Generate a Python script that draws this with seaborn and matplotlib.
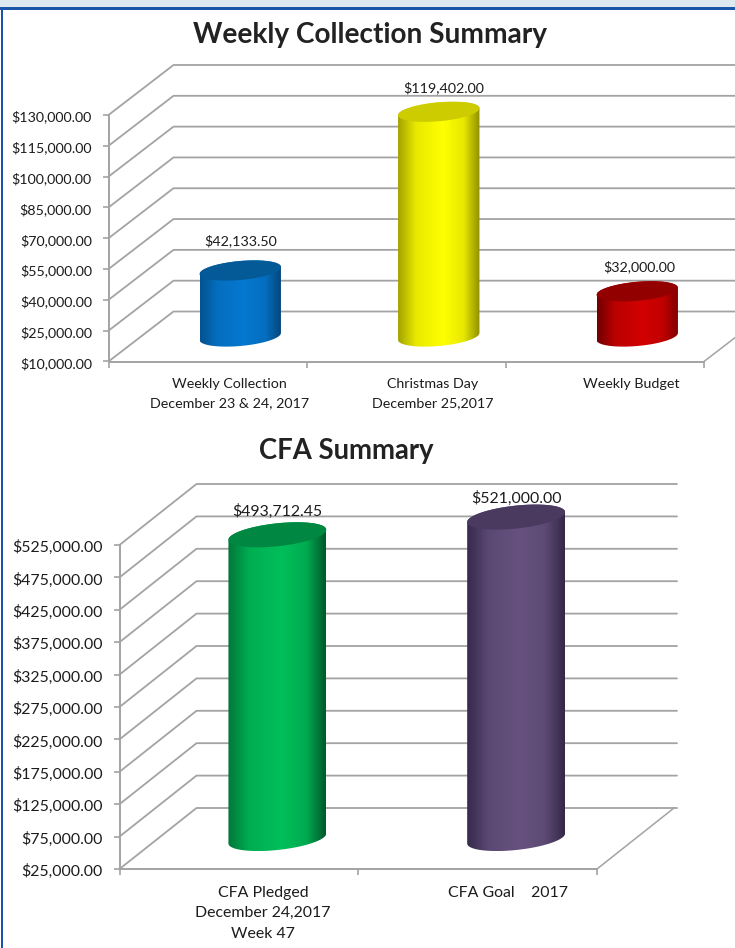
import numpy as np
import seaborn as sns
import matplotlib.pyplot as plt
from matplotlib.colors import LinearSegmentedColormap
from matplotlib.patches import Polygon, Rectangle
from matplotlib.ticker import FuncFormatter
from matplotlib.transforms import Affine2D, IdentityTransform

# Data
weekly_title = "Weekly Collection Summary"
weekly_cats = ["Weekly Collection\nDecember 23 & 24, 2017", "Christmas Day\nDecember 25,2017", "Weekly Budget"]
weekly_vals = [42133.50, 119402.00, 32000.00]
weekly_ticks = [10000, 25000, 40000, 55000, 70000, 85000, 100000, 115000, 130000]

cfa_title = "CFA Summary"
cfa_cats = ["CFA Pledged\nDecember 24,2017\nWeek 47", "CFA Goal    2017"]
cfa_vals = [493712.45, 521000.00]
cfa_ticks = [25000, 75000, 125000, 175000, 225000, 275000, 325000, 375000, 425000, 475000, 525000]

# left edge, peak, right edge, cap
weekly_colors = [("#04528f", "#0578d0", "#034478", "#035a96"),
                 ("#a3a300", "#ffff00", "#8f8f00", "#cccc00"),
                 ("#700000", "#d20000", "#7d0000", "#930000")]
cfa_colors = [("#00773a", "#00bf5a", "#00582b", "#008741"),
              ("#362a4c", "#67527f", "#342849", "#4a3a60")]

W, H = 735, 948
GRID = "#a3a3a3"
TEXT = "#1c1c1c"

sns.set_style("ticks")
plt.rcParams["font.family"] = ["Lato", "DejaVu Sans"]

fig = plt.figure(figsize=(W / 100, H / 100), dpi=100)

# page frame
fig.add_artist(Rectangle((0, 1 - 8 / H), 1, 8 / H, transform=fig.transFigure, color="#dce9f0", lw=0))
fig.add_artist(Rectangle((0, 1 - 10 / H), 1, 2.5 / H, transform=fig.transFigure, color="#1a55a8", lw=0))
fig.add_artist(Rectangle((1 / W, 0), 2.5 / W, 1 - 8 / H, transform=fig.transFigure, color="#1a55a8", lw=0))


def cylinder_path(left, right, base, top, tilt, b):
    # outline in pixels: lower half of base ellipse, upper half of the cap
    cx, a = (left + right) / 2, (right - left) / 2
    t = np.linspace(np.pi, 2 * np.pi, 40)
    low = np.c_[cx + a * np.cos(t), base + b * np.sin(t) + tilt * np.cos(t)]
    t2 = np.linspace(0, np.pi, 40)
    up = np.c_[cx + a * np.cos(t2), top + b * np.sin(t2) + tilt * np.cos(t2)]
    return np.vstack([low, up])


def cap_path(left, right, top, tilt, b):
    cx, a = (left + right) / 2, (right - left) / 2
    t = np.linspace(0, 2 * np.pi, 80)
    return np.c_[cx + a * np.cos(t), top + b * np.sin(t) + tilt * np.cos(t)]


def draw_chart(box, cats, vals, ticks, colors, title, title_xy, title_size, depth, grid_end, tilt, b,
               label_nudge, cat_shift, fs, spacing):
    x0, x1, y_top, y_bot = box
    dx, dy = depth
    ax = fig.add_axes([x0 / W, 1 - y_bot / H, (x1 - x0) / W, (y_bot - y_top) / H])
    sns.barplot(x=cats, y=vals, hue=cats, palette=[c[1] for c in colors], width=0.41,
                legend=False, saturation=1, ax=ax, zorder=3)
    ax.set_ylim(ticks[0], ticks[-1])
    ax.set_xlim(-0.5, len(cats) - 0.5)
    ax.set_yticks(ticks)
    ax.yaxis.set_major_formatter(FuncFormatter(lambda v, _: f"${v:,.2f}"))
    ax.set_xticks(np.arange(-0.5, len(cats)), minor=True)
    ax.tick_params(axis="x", which="major", length=0, pad=12, labelsize=fs, labelcolor=TEXT)
    ax.tick_params(axis="x", which="minor", length=4, width=1.2, color=GRID)
    ax.tick_params(axis="y", length=4, width=1.2, color=GRID, pad=8, labelsize=fs, labelcolor=TEXT)
    for name in ["top", "right"]:
        ax.spines[name].set_visible(False)
    for name in ["left", "bottom"]:
        ax.spines[name].set_color(GRID)
        ax.spines[name].set_linewidth(1.4)
    for lab, shift in zip(ax.get_xticklabels(), cat_shift):
        lab.set_transform(lab.get_transform() + Affine2D().translate(shift, 0))
        lab.set_linespacing(spacing)
    for lab in ax.get_yticklabels():
        lab.set_transform(lab.get_transform() + Affine2D().translate(0, -1))

    fig.canvas.draw()
    px = ax.transData.transform

    # side wall and back wall gridlines
    for t in ticks:
        sx, sy = px((-0.5, t))
        ax.plot([sx, sx + dx, grid_end], [sy, sy + dy, sy + dy], color=GRID, lw=1.3,
                transform=IdentityTransform(), clip_on=False, zorder=1)
    # right edge of floor
    rx, ry = px((len(cats) - 0.5, ticks[0]))
    ax.plot([rx, rx + dx], [ry, ry + dy], color=GRID, lw=1.1,
            transform=IdentityTransform(), clip_on=False, zorder=1)

    # cylinders stand half way into the floor
    for i, (bar, v, col) in enumerate(zip(ax.patches, vals, colors)):
        bar.set_visible(False)
        left, base = px((bar.get_x(), ticks[0])) + [dx / 2, dy / 2]
        right, top = px((bar.get_x() + bar.get_width(), v)) + [dx / 2, dy / 2]
        outline = cylinder_path(left, right, base, top, tilt, b)
        cmap = LinearSegmentedColormap.from_list("body", [col[0], col[1], col[2]])
        # shading stays bright over the middle, falls off only near the edges
        grad = np.interp(np.linspace(0, 1, 256), [0, 0.22, 0.55, 0.8, 1], [0, 0.38, 0.5, 0.6, 1])[None, :]
        im = ax.imshow(grad, cmap=cmap, vmin=0, vmax=1, aspect="auto", zorder=3,
                       extent=[left, right, outline[:, 1].min(), outline[:, 1].max()],
                       transform=IdentityTransform())
        im.set_clip_box(fig.bbox)
        im.set_clip_path(Polygon(outline, transform=IdentityTransform()))
        ax.add_patch(Polygon(cap_path(left, right, top, tilt, b), closed=True, fc=col[3], ec="none",
                             transform=IdentityTransform(), clip_on=False, zorder=4))
        ox, oy = label_nudge[i]
        ax.text((left + right) / 2 + ox, top + oy, f"${v:,.2f}", fontsize=fs, color=TEXT,
                ha="center", va="center", transform=IdentityTransform(), zorder=5)

    ax.set_xlim(-0.5, len(cats) - 0.5)
    ax.set_ylim(ticks[0], ticks[-1])
    ax.patch.set_alpha(0)
    fig.text(title_xy[0] / W, 1 - title_xy[1] / H, title, fontsize=title_size, fontweight="bold",
             color="#222222", ha="center", va="center")


draw_chart((108.5, 704, 115, 361.5), weekly_cats, weekly_vals, weekly_ticks, weekly_colors,
           weekly_title, (370, 35), 20.2, (65, 50), W, 3.5, 9.5,
           [(0.5, 30), (5.5, 24), (2.5, 25)], [22, 26, 27], 10.3, 1.65)
draw_chart((119.5, 597, 545, 869), cfa_cats, cfa_vals, cfa_ticks, cfa_colors,
           cfa_title, (346, 451), 19.8, (77, 61), 677, 5, 11.5,
           [(0, 23), (0, 19)], [24, 30], 11.4, 1.6)

fig.savefig("out.png", dpi=100)
